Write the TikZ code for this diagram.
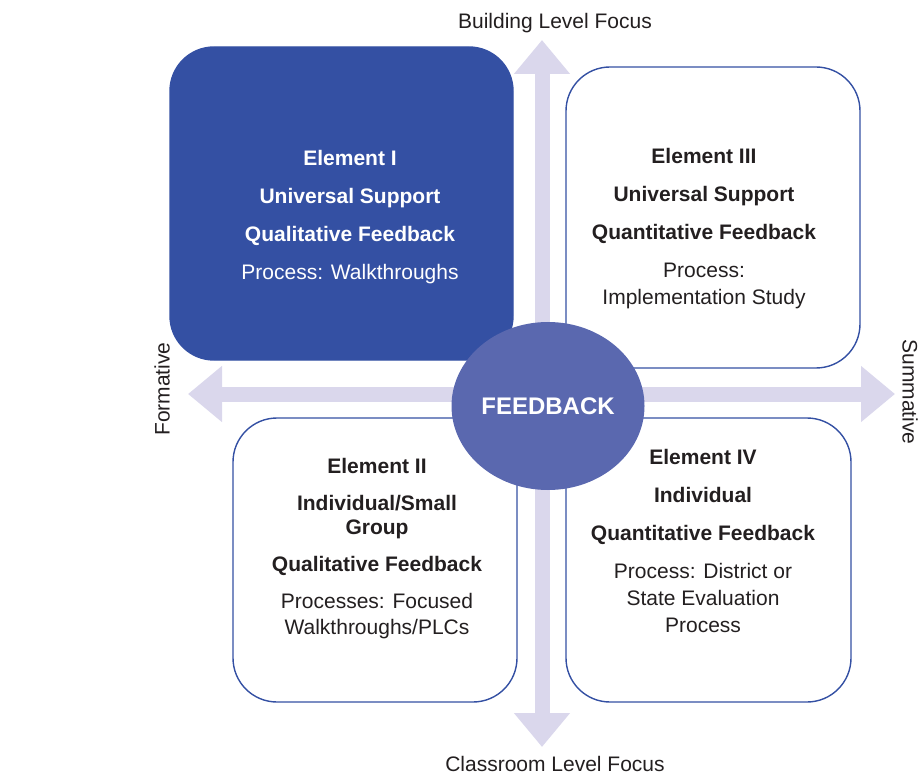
\documentclass[tikz,border=0pt]{standalone}
\usepackage{fontspec}
\setmainfont{Liberation Sans}
\usetikzlibrary{positioning,arrows.meta,shapes.geometric}
\definecolor{navy}{HTML}{3450A3}
\definecolor{bubble}{HTML}{5A68AF}
\definecolor{lilac}{HTML}{DAD7EC}
\definecolor{ink}{HTML}{231F20}
\tikzset{elembox/.style={rectangle, rounded corners=22pt, draw=navy, line width=0.7pt, inner sep=0pt},
elemtext/.style={align=center, inner sep=0pt, text=ink, font=\fontsize{10.5}{13.5}\selectfont},
axislabel/.style={text=ink, font=\fontsize{10.5}{13}\selectfont},
axisarrow/.style={lilac, line width=7.5pt, {Triangle[length=17pt, width=27pt]}-{Triangle[length=17pt, width=27pt]}},}

\begin{document}
\begin{tikzpicture}[x=0.5pt, y=-0.5pt]
\useasboundingbox (0,0) rectangle (921,775);
% axis ends
\coordinate (top) at (542,40);
\coordinate (bottom) at (542,747);
\coordinate (left) at (188,394);
\coordinate (right) at (895,394);
\draw[axisarrow] (top) -- (bottom);
\draw[axisarrow] (left) -- (right);
\node [axislabel] (build) [above=0pt of top, xshift=6.5pt] {Building Level Focus};
\node [axislabel] (class) [below=1pt of bottom, xshift=6.5pt] {Classroom Level Focus};
\node [axislabel, rotate=90] (form) at (162,389) {Formative};
\node [axislabel, rotate=-90] (summ) at (910,392) {Summative};
% the four elements
\node [elembox, fill=navy, minimum width=171.5pt, minimum height=156.5pt] (e1) at (341.5,203.5) {};
\node [elembox, minimum width=147pt, minimum height=150.5pt] (e3) at (713,217.5) {};
\node [elembox, minimum width=142pt, minimum height=142pt] (e2) at (375,560) {};
\node [elembox, minimum width=142.5pt, minimum height=142pt] (e4) at (708.5,560) {};
\node [elemtext, text=white] (t1) at (350,217) {\textbf{Element I}\\[5.5pt]
  \textbf{Universal Support}\\[5.5pt]
  \textbf{Qualitative Feedback}\\[5.5pt]
  Process: Walkthroughs};
\node [elemtext] (t3) at (704,229) {\textbf{Element III}\\[5.5pt]
  \textbf{Universal Support}\\[5.5pt]
  \textbf{Quantitative Feedback}\\[5.5pt]
  Process:\\ Implementation Study};
\node [elemtext] (t2) at (377,549) {\textbf{Element II}\\[5pt]
  \textbf{Individual/Small}\\[-1.5pt] \textbf{Group}\\[5pt]
  \textbf{Qualitative Feedback}\\[5pt]
  Processes: Focused\\[-0.5pt] Walkthroughs/PLCs};
\node [elemtext] (t4) at (703,541) {\textbf{Element IV}\\[5.5pt]
  \textbf{Individual}\\[5.5pt]
  \textbf{Quantitative Feedback}\\[5.5pt]
  Process: District or\\ State Evaluation\\ Process};
% centre
\node [ellipse, fill=bubble, inner sep=0pt, minimum width=96.5pt, minimum height=84pt, text=white, font=\fontsize{12}{14}\selectfont\bfseries] (fb) at (548,406) {FEEDBACK};
\end{tikzpicture}
\end{document}
